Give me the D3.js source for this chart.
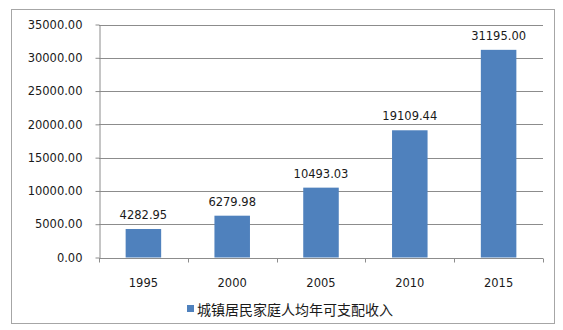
<!DOCTYPE html>
<html><head><meta charset="utf-8">
<script src="https://cdn.jsdelivr.net/npm/d3@7"></script>
<style>body{margin:0;background:#fff;} svg{display:block;}</style>
</head><body>
<svg id="c" width="563" height="330"></svg>
<script>
const categories = ["1995","2000","2005","2010","2015"];
const values = [4282.95, 6279.98, 10493.03, 19109.44, 31195.00];
const yTicks = [0,5000,10000,15000,20000,25000,30000,35000];
const seriesName = "城镇居民家庭人均年可支配收入";

(function(){
const svg = d3.select("#c");
const font = "'DejaVu Sans', Verdana, sans-serif";
const txt = "#1a1a1a";

svg.append("rect").attr("x",11.5).attr("y",9.5).attr("width",543).attr("height",314)
  .attr("fill","#fff").attr("stroke","#a6a6a6").attr("stroke-width",1);

const pL=99, pR=543, pT=24.5, pB=257.5;
const x = d3.scaleBand().domain(categories).range([pL,pR]).paddingInner(0.6).paddingOuter(0.3);
const xb = d3.scaleBand().domain(categories).range([pL,pR]);
const y = d3.scaleLinear().domain([0,35000]).range([pB,pT]);

svg.append("g").selectAll("line").data(yTicks.filter(d=>d>0)).join("line")
  .attr("x1",pL).attr("x2",pR).attr("y1",d=>Math.round(y(d))+0.5).attr("y2",d=>Math.round(y(d))+0.5)
  .attr("stroke","#8c8c8c").attr("stroke-width",1);

const ya = svg.append("g").attr("transform",`translate(${pL+0.5},0)`)
  .call(d3.axisLeft(y).tickValues(yTicks).tickSize(4).tickSizeOuter(0).tickFormat(d=>d3.format(".2f")(d)));
ya.select(".domain").attr("stroke","#8c8c8c");
ya.selectAll(".tick line").attr("stroke","#8c8c8c");
ya.selectAll(".tick text").attr("x",-17).attr("font-family",font).attr("font-size","11.5px").attr("fill",txt);

const xa = svg.append("g").attr("transform",`translate(0,${Math.round(pB)+0.5})`);
xa.append("line").attr("x1",pL).attr("x2",pR).attr("stroke","#8c8c8c");
const bounds = categories.map(c=>xb(c)).concat([pR]);
xa.selectAll("line.t").data(bounds).join("line").attr("class","t")
  .attr("x1",d=>Math.round(d)+0.5).attr("x2",d=>Math.round(d)+0.5).attr("y1",0).attr("y2",4).attr("stroke","#8c8c8c");
xa.selectAll("text").data(categories).join("text")
  .attr("x",d=>xb(d)+xb.bandwidth()/2).attr("y",28).attr("text-anchor","middle")
  .attr("font-family",font).attr("font-size","11.5px").attr("fill",txt).text(d=>d);

svg.append("g").selectAll("rect").data(values).join("rect")
  .attr("x",(d,i)=>x(categories[i])).attr("width",x.bandwidth())
  .attr("y",d=>y(d)).attr("height",d=>y(0)-y(d)).attr("fill","#4f81bd");

svg.append("g").selectAll("text").data(values).join("text")
  .attr("x",(d,i)=>x(categories[i])+x.bandwidth()/2).attr("y",d=>y(d)-10)
  .attr("text-anchor","middle").attr("font-family",font).attr("font-size","11.5px").attr("fill",txt)
  .text(d=>d3.format(".2f")(d));

svg.append("rect").attr("x",187).attr("y",305).attr("width",7).attr("height",7).attr("fill","#4f81bd");
svg.append("text").attr("x",197).attr("y",315).attr("font-family","'Noto Sans CJK SC', sans-serif")
  .attr("font-size","14px").attr("fill",txt).text(seriesName);
})();
</script>
</body></html>
